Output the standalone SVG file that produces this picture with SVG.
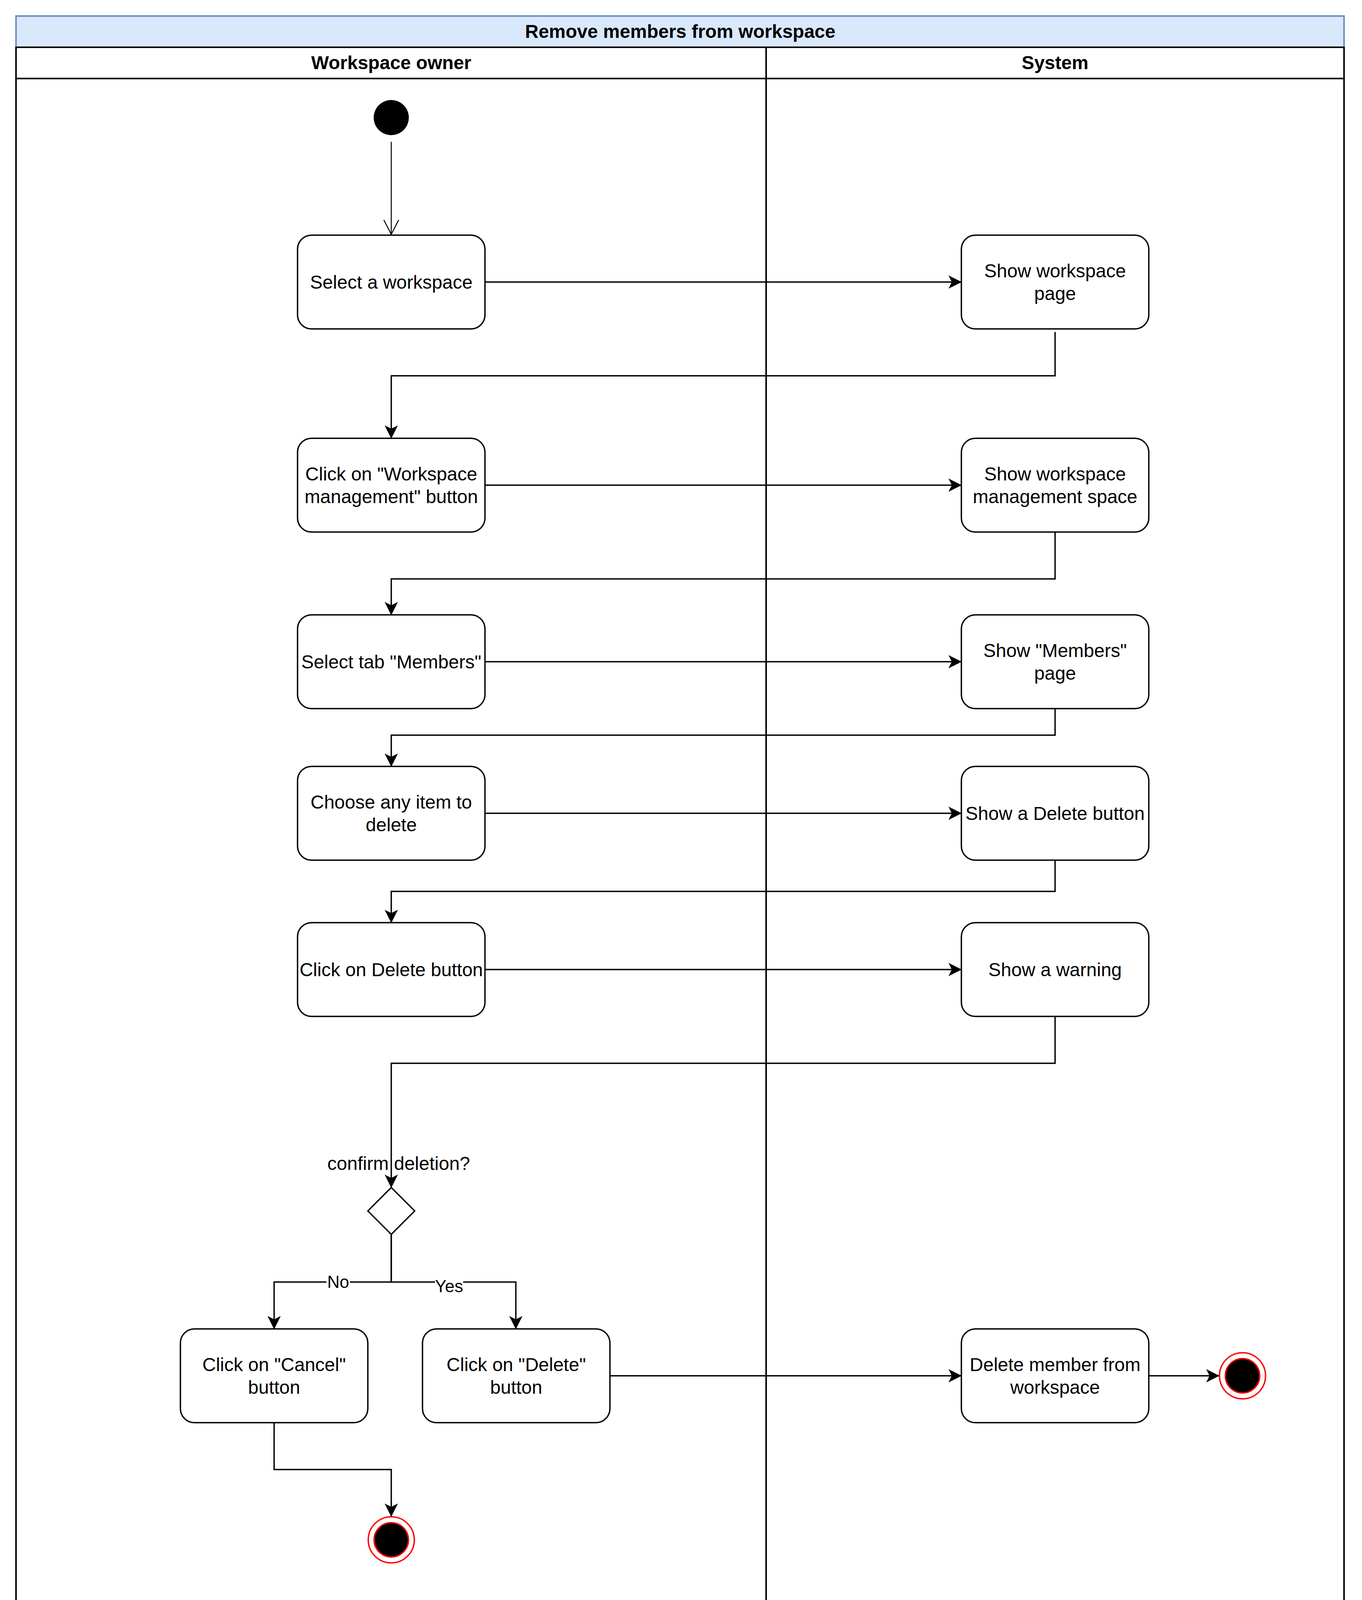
<svg xmlns="http://www.w3.org/2000/svg" width="3488" height="4204" viewBox="0 0 3488 4204">
<style>
text{font-family:"Liberation Sans",Arial,Helvetica,sans-serif;fill:#000;}
.t{font-size:48px;text-anchor:middle;}
.b{font-size:48px;font-weight:bold;text-anchor:middle;}
.lbl{font-size:44px;text-anchor:middle;}
.box{fill:#fff;stroke:#000;stroke-width:3.5;}
.lane{fill:none;stroke:#000;stroke-width:4;}
.edge{fill:none;stroke:#000;stroke-width:3.5;}
.fin-o{fill:#fff;stroke:#ff0000;stroke-width:3.5;}
.fin-i{fill:#000;stroke:#ff0000;stroke-width:3.5;}
</style>
<defs>
<marker id="arr" markerUnits="userSpaceOnUse" markerWidth="34" markerHeight="34" viewBox="0 0 34 34" refX="33" refY="17" orient="auto">
<path d="M0,0 L34,17 L0,34 L8.5,17 Z" fill="#000"/>
</marker>
<marker id="open" markerUnits="userSpaceOnUse" markerWidth="42" markerHeight="42" viewBox="0 0 42 42" refX="39" refY="21" orient="auto">
<path d="M2,2 L39,21 L2,40" fill="none" stroke="#000" stroke-width="2.5"/>
</marker>
</defs>
<rect width="3488" height="4204" fill="#fff"/>

<g id="pool">
<rect x="41" y="41" width="3401" height="80" fill="#dae8fc" stroke="#6c8ebf" stroke-width="4"/>
<text class="b" x="1742" y="97">Remove members from workspace</text>
</g>
<g id="lane-owner">
<rect class="lane" x="41" y="121" width="1921" height="4041"/>
<line class="lane" x1="41" y1="201" x2="1962" y2="201"/>
<text class="b" x="1002" y="177">Workspace owner</text>
</g>
<g id="lane-system">
<rect class="lane" x="1962" y="121" width="1480" height="4041"/>
<line class="lane" x1="1962" y1="201" x2="3442" y2="201"/>
<text class="b" x="2702" y="177">System</text>
</g>

<g id="edges">
<line x1="1002" y1="363" x2="1002" y2="600" stroke="#000" stroke-width="2.5" marker-end="url(#open)"/>
<path class="edge" d="M1242,722 L2462,722" marker-end="url(#arr)"/>
<path class="edge" d="M2702,850 L2702,962 L1002,962 L1002,1122" marker-end="url(#arr)"/>
<path class="edge" d="M1242,1242 L2462,1242" marker-end="url(#arr)"/>
<path class="edge" d="M2702,1362 L2702,1482 L1002,1482 L1002,1574" marker-end="url(#arr)"/>
<path class="edge" d="M1242,1694 L2462,1694" marker-end="url(#arr)"/>
<path class="edge" d="M2702,1814 L2702,1882 L1002,1882 L1002,1962" marker-end="url(#arr)"/>
<path class="edge" d="M1242,2082 L2462,2082" marker-end="url(#arr)"/>
<path class="edge" d="M2702,2202 L2702,2282 L1002,2282 L1002,2362" marker-end="url(#arr)"/>
<path class="edge" d="M1242,2482 L2462,2482" marker-end="url(#arr)"/>
<path class="edge" d="M2702,2602 L2702,2722 L1002,2722 L1002,3040" marker-end="url(#arr)"/>
<text class="t" x="1021" y="2995">confirm deletion?</text>
<path class="edge" d="M1002,3160 L1002,3282 L702,3282 L702,3402" marker-end="url(#arr)"/>
<path class="edge" d="M1002,3160 L1002,3282 L1321,3282 L1321,3402" marker-end="url(#arr)"/>
<rect x="836" y="3262" width="60" height="40" fill="#fff"/>
<text class="lbl" x="866" y="3297">No</text>
<rect x="1114" y="3270" width="72" height="44" fill="#fff"/>
<text class="lbl" x="1150" y="3308">Yes</text>
<path class="edge" d="M1562,3522 L2462,3522" marker-end="url(#arr)"/>
<path class="edge" d="M2942,3522 L3122,3522" marker-end="url(#arr)"/>
<path class="edge" d="M702,3642 L702,3762 L1002,3762 L1002,3882" marker-end="url(#arr)"/>
</g>

<g id="start">
<circle cx="1002" cy="301" r="45" fill="#000"/>
</g>

<g id="select-workspace">
<rect class="box" x="762" y="602" width="480" height="240" rx="36"/>
<text class="t" x="1002" y="739">Select a workspace</text>
</g>
<g id="show-workspace-page">
<rect class="box" x="2462" y="602" width="480" height="240" rx="36"/>
<text class="t" x="2702" y="710">Show workspace</text>
<text class="t" x="2702" y="768">page</text>
</g>

<g id="click-workspace-management">
<rect class="box" x="762" y="1122" width="480" height="240" rx="36"/>
<text class="t" x="1002" y="1230">Click on "Workspace</text>
<text class="t" x="1002" y="1288">management" button</text>
</g>
<g id="show-workspace-management">
<rect class="box" x="2462" y="1122" width="480" height="240" rx="36"/>
<text class="t" x="2702" y="1230">Show workspace</text>
<text class="t" x="2702" y="1288">management space</text>
</g>

<g id="select-tab-members">
<rect class="box" x="762" y="1574" width="480" height="240" rx="36"/>
<text class="t" x="1002" y="1711">Select tab "Members"</text>
</g>
<g id="show-members-page">
<rect class="box" x="2462" y="1574" width="480" height="240" rx="36"/>
<text class="t" x="2702" y="1682">Show "Members"</text>
<text class="t" x="2702" y="1740">page</text>
</g>

<g id="choose-item">
<rect class="box" x="762" y="1962" width="480" height="240" rx="36"/>
<text class="t" x="1002" y="2070">Choose any item to</text>
<text class="t" x="1002" y="2128">delete</text>
</g>
<g id="show-delete-button">
<rect class="box" x="2462" y="1962" width="480" height="240" rx="36"/>
<text class="t" x="2702" y="2099">Show a Delete button</text>
</g>

<g id="click-delete-button">
<rect class="box" x="762" y="2362" width="480" height="240" rx="36"/>
<text class="t" x="1002" y="2499">Click on Delete button</text>
</g>
<g id="show-warning">
<rect class="box" x="2462" y="2362" width="480" height="240" rx="36"/>
<text class="t" x="2702" y="2499">Show a warning</text>
</g>

<g id="decision">
<polygon points="1002,3040 1062,3100 1002,3160 942,3100" fill="#fff" stroke="#000" stroke-width="3.5"/>
</g>

<g id="click-cancel">
<rect class="box" x="462" y="3402" width="480" height="240" rx="36"/>
<text class="t" x="702" y="3510">Click on "Cancel"</text>
<text class="t" x="702" y="3568">button</text>
</g>
<g id="click-delete">
<rect class="box" x="1082" y="3402" width="480" height="240" rx="36"/>
<text class="t" x="1322" y="3510">Click on "Delete"</text>
<text class="t" x="1322" y="3568">button</text>
</g>
<g id="delete-member">
<rect class="box" x="2462" y="3402" width="480" height="240" rx="36"/>
<text class="t" x="2702" y="3510">Delete member from</text>
<text class="t" x="2702" y="3568">workspace</text>
</g>

<g id="end-right">
<circle class="fin-o" cx="3182" cy="3522" r="59"/>
<circle class="fin-i" cx="3182" cy="3522" r="44"/>
</g>
<g id="end-bottom">
<circle class="fin-o" cx="1002" cy="3942" r="59"/>
<circle class="fin-i" cx="1002" cy="3942" r="44"/>
</g>
</svg>
